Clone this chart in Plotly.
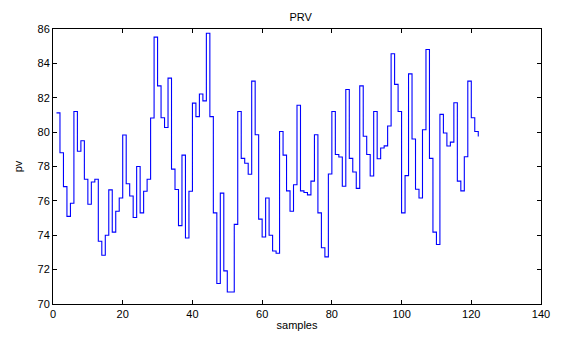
import plotly.graph_objects as go

samples = list(range(1, 123))
prv = [
    81.12, 78.80, 76.83, 75.10, 75.86, 81.20, 78.89, 79.50, 77.26, 75.80,
    77.10, 77.26, 73.65, 72.84, 74.00, 76.64, 74.18, 75.40, 76.17, 79.83,
    77.00, 76.28, 75.03, 78.00, 75.30, 76.56, 77.26, 80.82, 85.53, 82.69,
    80.84, 80.27, 83.14, 77.85, 76.66, 74.56, 78.66, 73.84, 76.56, 81.69,
    80.90, 82.22, 81.82, 85.75, 80.90, 75.30, 71.19, 76.45, 71.93, 70.70,
    70.70, 74.63, 81.20, 78.47, 78.19, 77.55, 82.97, 79.85, 74.94, 73.90,
    76.17, 74.00, 73.08, 72.95, 80.04, 78.66, 76.58, 75.40, 76.94, 81.56,
    76.58, 76.49, 76.35, 77.15, 79.85, 75.30, 73.27, 72.74, 77.56, 81.20,
    78.70, 78.55, 76.85, 82.48, 78.47, 77.68, 76.73, 82.69, 79.76, 78.70,
    77.45, 81.20, 78.45, 79.08, 79.20, 80.36, 84.56, 82.78, 81.20, 75.30,
    77.47, 83.39, 79.60, 76.68, 76.17, 80.14, 84.81, 78.47, 74.18, 73.46,
    81.03, 79.95, 79.19, 79.42, 81.71, 77.15, 76.58, 78.57, 82.97, 80.84,
    80.04, 79.74,
]
x_ticks = [0, 20, 40, 60, 80, 100, 120, 140]
y_ticks = [70, 72, 74, 76, 78, 80, 82, 84, 86]

FONT = "Liberation Sans, Arial"

fig = go.Figure()
fig.add_trace(go.Scatter(
    x=samples, y=prv, mode="lines",
    line=dict(color="#0000ff", width=1.1, shape="hv"),
    showlegend=False,
))

axis_common = dict(
    showgrid=False, zeroline=False, showline=True, linecolor="black",
    linewidth=1, mirror="ticks", ticks="inside", ticklen=4,
    tickcolor="black", tickfont=dict(family=FONT, size=11, color="black"),
)
fig.update_xaxes(range=[0, 140], tickvals=x_ticks,
                 title=dict(text="samples", standoff=2,
                            font=dict(family=FONT, size=11, color="black")),
                 **axis_common)
fig.update_yaxes(range=[70, 86], tickvals=y_ticks,
                 title=dict(text="pv", standoff=12,
                            font=dict(family=FONT, size=11, color="black")),
                 **axis_common)
fig.update_layout(
    width=562, height=342,
    margin=dict(l=53, r=12, t=29, b=31),
    paper_bgcolor="white", plot_bgcolor="white",
    title=dict(text="PRV", x=0.535, xanchor="center", y=0.95, yanchor="middle",
               font=dict(family=FONT, size=11, color="black")),
)
fig.write_html("out.html")
